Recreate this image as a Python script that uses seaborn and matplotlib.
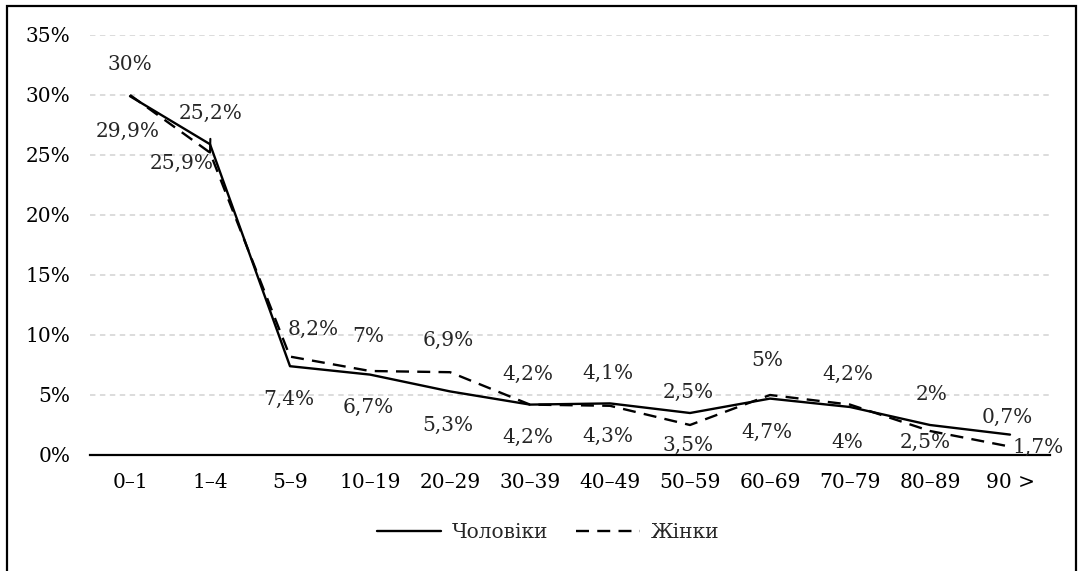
import seaborn as sns
import matplotlib.pyplot as plt
import pandas as pd
from matplotlib.patches import Rectangle
from matplotlib.lines import Line2D

# Data
age_groups = ["0–1", "1–4", "5–9", "10–19", "20–29", "30–39",
              "40–49", "50–59", "60–69", "70–79", "80–89", "90 >"]
men = [29.9, 25.9, 7.4, 6.7, 5.3, 4.2, 4.3, 3.5, 4.7, 4.0, 2.5, 1.7]
women = [30.0, 25.2, 8.2, 7.0, 6.9, 4.2, 4.1, 2.5, 5.0, 4.2, 2.0, 0.7]
men_name = "Чоловіки"
women_name = "Жінки"
y_ticks = [0, 5, 10, 15, 20, 25, 30, 35]

# label offsets in pixels (dx, dy)
women_off = [(0, 30), (1, 39), (23, 27), (-2, 34), (-2, 32), (-2, 30),
             (-2, 32), (-2, 33), (-3, 35), (-2, 30), (2, 36), (-3, 29)]
men_off = [(-2, -35), (-28, -19), (-1, -33), (-2, -33), (-2, -34), (-2, -33),
           (-2, -33), (-2, -32), (-3, -34), (-3, -35), (-5, -17), (28, -13)]

df = pd.DataFrame({
    "age": age_groups * 2,
    "value": men + women,
    "sex": [men_name] * len(men) + [women_name] * len(women),
})

sns.set_style("white")
plt.rcParams['font.family'] = ['DejaVu Serif']
FS = 14.5

fig = plt.figure(figsize=(10.79, 5.71), dpi=100)
ax = fig.add_axes([90 / 1079, 1 - 455 / 571, 960 / 1079, 420 / 571])

sns.lineplot(data=df, x="age", y="value", style="sex", sort=False,
             color="black", linewidth=1.7,
             dashes={men_name: "", women_name: (5.5, 3.5)},
             ax=ax, legend=False)

ax.set_ylim(0, 35)
ax.set_xlim(-0.5, len(age_groups) - 0.5)
ax.set_yticks(y_ticks)
ax.set_yticklabels([f"{t}%" for t in y_ticks])
ax.set_xlabel("")
ax.set_ylabel("")
ax.tick_params(axis="both", length=0, labelsize=FS, colors="black")
ax.tick_params(axis="y", pad=14)
ax.tick_params(axis="x", pad=13)

ax.yaxis.grid(True, color="#d9d9d9", linestyle=(0, (3, 2.5)), linewidth=1.3)
ax.xaxis.grid(False)
for s in ["top", "right", "left"]:
    ax.spines[s].set_visible(False)
ax.spines["bottom"].set_color("black")
ax.spines["bottom"].set_linewidth(1.6)
ax.set_axisbelow(True)


def fmt(v):
    s = f"{v:.1f}".rstrip("0").rstrip(".")
    return s.replace(".", ",") + "%"


for i, (v, off) in enumerate(zip(women, women_off)):
    kw = {}
    if i == 1:
        kw["arrowprops"] = dict(arrowstyle="-", color="black", lw=1.5,
                                shrinkA=9, shrinkB=0)
    ax.annotate(fmt(v), (i, v), xytext=off, textcoords="offset pixels",
                ha="center", va="center", fontsize=FS, **kw)

for i, (v, off) in enumerate(zip(men, men_off)):
    ax.annotate(fmt(v), (i, v), xytext=off, textcoords="offset pixels",
                ha="center", va="center", fontsize=FS)

# legend
handles = [Line2D([], [], color="black", lw=1.7),
           Line2D([], [], color="black", lw=1.7, dashes=(5.5, 3.5))]
fig.legend(handles, [men_name, women_name], loc="center",
           bbox_to_anchor=(548 / 1079, 1 - 533 / 571), ncol=2,
           frameon=False, fontsize=FS, handlelength=3.2,
           handletextpad=0.5, columnspacing=1.4)

# outer frame
fig.patches.append(Rectangle((7 / 1079, -0.05), 1069 / 1079, 1.05 - 6 / 571,
                             transform=fig.transFigure, fill=False,
                             edgecolor="black", linewidth=1.6))

fig.savefig("out.png", dpi=100)
